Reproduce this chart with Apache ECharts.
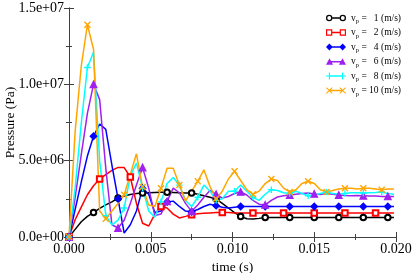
<!DOCTYPE html>
<html><head><meta charset="utf-8">
<script src="https://cdn.jsdelivr.net/npm/echarts@6/dist/echarts.min.js"></script>
<style>html,body{margin:0;padding:0;background:#fff}#c{width:415px;height:273px}</style>
</head><body><div id="c"></div>
<script>
// time (s)
const times = [0, 0.000375, 0.00075, 0.001125, 0.0015, 0.001875, 0.00225, 0.002625, 0.003, 0.003375,
  0.00375, 0.004125, 0.0045, 0.004875, 0.00525, 0.005625, 0.006, 0.006375, 0.00675, 0.007125,
  0.0075, 0.007875, 0.00825, 0.008625, 0.009, 0.009375, 0.00975, 0.010125, 0.0105, 0.010875,
  0.01125, 0.011625, 0.012, 0.012375, 0.01275, 0.013125, 0.0135, 0.013875, 0.01425, 0.014625,
  0.015, 0.015375, 0.01575, 0.016125, 0.0165, 0.016875, 0.01725, 0.017625, 0.018, 0.018375,
  0.01875, 0.019125, 0.0195, 0.019875];
// pressure in units of 1e6 Pa
const p_v1 = [0, 0.5, 1.0, 1.35, 1.6, 1.88, 2.1, 2.3, 2.55, 2.68,
  2.78, 2.85, 2.88, 2.9, 2.92, 2.93, 2.93, 2.92, 2.9, 2.89,
  2.88, 2.8, 2.7, 2.6, 2.49, 2.2, 1.9, 1.6, 1.35, 1.2,
  1.18, 1.22, 1.27, 1.27, 1.27, 1.27, 1.27, 1.27, 1.27, 1.27,
  1.27, 1.27, 1.27, 1.27, 1.27, 1.27, 1.27, 1.27, 1.27, 1.27,
  1.27, 1.27, 1.27, 1.27];
const p_v2 = [0, 1.13, 1.96, 2.77, 3.36, 3.8, 4.08, 4.36, 4.56, 4.55,
  3.93, 2.2, 0.9, 0.72, 1.5, 2.0, 1.9, 1.5, 1.25, 1.35,
  1.46, 1.52, 1.56, 1.58, 1.6, 1.61, 1.6, 1.58, 1.57, 1.57,
  1.57, 1.57, 1.57, 1.57, 1.57, 1.57, 1.57, 1.57, 1.57, 1.57,
  1.57, 1.57, 1.57, 1.57, 1.57, 1.57, 1.57, 1.57, 1.57, 1.57,
  1.57, 1.57, 1.57, 1.57];
const p_v4 = [0, 1.8, 3.6, 5.3, 6.6, 7.4, 7.05, 4.7, 2.5, 0.26,
  0.8, 1.7, 3.2, 2.8, 1.6, 1.7, 2.3, 2.35, 2.0, 1.7,
  1.65, 1.8, 2.0, 2.15, 2.05, 1.95, 1.9, 1.95, 2.0, 2.0,
  2.0, 2.0, 2.0, 2.0, 2.0, 2.0, 2.0, 2.0, 2.0, 2.0,
  2.0, 2.0, 2.0, 2.0, 2.0, 2.0, 2.0, 2.0, 2.0, 2.0,
  2.0, 2.0, 2.0, 2.0];
const p_v6 = [0, 2.6, 5.4, 8.1, 10.0, 9.0, 4.5, 0.8, 0.59, 1.1,
  2.2, 3.4, 4.55, 3.2, 1.4, 1.5, 2.33, 3.2, 2.9, 2.2,
  1.68, 2.1, 2.6, 3.05, 2.8, 2.55, 2.65, 2.85, 2.95, 2.75,
  2.4, 2.15, 2.1, 2.4, 2.62, 2.7, 2.75, 2.8, 2.85, 2.88,
  2.82, 2.78, 2.85, 2.8, 2.75, 2.72, 2.7, 2.72, 2.7, 2.68,
  2.68, 2.66, 2.66, 2.66];
const p_v8 = [0, 3.2, 7.45, 11.1, 12.1, 5.0, 1.4, 0.8, 1.1, 1.9,
  4.0, 4.85, 3.2, 1.7, 1.3, 2.3, 3.5, 3.9, 3.4, 2.4,
  2.0, 2.6, 3.4, 3.0, 2.4, 2.5, 3.0, 3.0, 3.4, 3.0,
  2.6, 2.4, 2.8, 3.1, 3.05, 2.9, 2.85, 3.0, 2.85, 2.7,
  2.75, 2.85, 2.95, 2.85, 2.8, 2.85, 2.9, 2.9, 2.88, 2.9,
  2.92, 2.95, 2.85, 2.8];
const p_v10 = [0, 6.9, 11.2, 13.9, 12.3, 1.7, 1.2, 1.7, 2.2, 2.77,
  4.1, 5.45, 3.27, 2.1, 2.0, 3.2, 4.5, 4.5, 3.4, 2.35,
  3.0, 3.65, 4.4, 3.3, 2.5, 3.0, 3.8, 4.3, 3.7, 3.1,
  2.8, 3.0, 3.5, 3.8, 3.7, 3.2, 2.95, 3.1, 3.5, 3.65,
  3.5, 3.1, 2.95, 3.05, 3.15, 3.2, 3.2, 3.15, 3.2, 3.2,
  3.15, 3.1, 3.15, 3.15];
const velocities = [1, 2, 4, 6, 8, 10];
const xTickLabels = ['0.000', '0.005', '0.010', '0.015', '0.020'];
const yTickLabels = ['0.0e+00', '5.0e+06', '1.0e+07', '1.5e+07'];

const UNIT = 1e6;
const FONT = "'Liberation Serif', 'Times New Roman', serif";

// legend icons: marker at both ends with a line between
function ring(cx, cy, r1, r2) {
  return 'M' + (cx - r1) + ',' + cy + ' a' + r1 + ',' + r1 + ' 0 1,0 ' + (2 * r1) + ',0 a' + r1 + ',' + r1 + ' 0 1,0 ' + (-2 * r1) + ',0 Z ' +
    'M' + (cx - r2) + ',' + cy + ' a' + r2 + ',' + r2 + ' 0 1,1 ' + (2 * r2) + ',0 a' + r2 + ',' + r2 + ' 0 1,1 ' + (-2 * r2) + ',0 Z ';
}
function hsq(cx, cy, a, b) {
  return 'M' + (cx - a) + ',' + (cy - a) + ' h' + (2 * a) + ' v' + (2 * a) + ' h' + (-2 * a) + ' Z ' +
    'M' + (cx - b) + ',' + (cy - b) + ' v' + (2 * b) + ' h' + (2 * b) + ' v' + (-2 * b) + ' Z ';
}
function dia(cx, cy, r) { return 'M' + cx + ',' + (cy - r) + ' L' + (cx + r) + ',' + cy + ' L' + cx + ',' + (cy + r) + ' L' + (cx - r) + ',' + cy + ' Z '; }
function tri(cx, cy, r) { return 'M' + cx + ',' + (cy - r) + ' L' + (cx + r) + ',' + (cy + r * 0.85) + ' L' + (cx - r) + ',' + (cy + r * 0.85) + ' Z '; }
function plus(cx, cy, r, w) {
  return 'M' + (cx - w) + ',' + (cy - r) + ' h' + (2 * w) + ' v' + (r - w) + ' h' + (r - w) + ' v' + (2 * w) + ' h' + (w - r) + ' v' + (r - w) + ' h' + (-2 * w) + ' v' + (w - r) + ' h' + (w - r) + ' v' + (-2 * w) + ' h' + (r - w) + ' Z ';
}
function cross(cx, cy, r, w) {
  return 'M' + (cx - r) + ',' + (cy - r + w) + ' L' + (cx - r + w) + ',' + (cy - r) + ' L' + cx + ',' + (cy - w) + ' L' + (cx + r - w) + ',' + (cy - r) +
    ' L' + (cx + r) + ',' + (cy - r + w) + ' L' + (cx + w) + ',' + cy + ' L' + (cx + r) + ',' + (cy + r - w) + ' L' + (cx + r - w) + ',' + (cy + r) +
    ' L' + cx + ',' + (cy + w) + ' L' + (cx - r + w) + ',' + (cy + r) + ' L' + (cx - r) + ',' + (cy + r - w) + ' L' + (cx - w) + ',' + cy + ' Z ';
}
function bar(x0, x1, cy, h) { return 'M' + x0 + ',' + (cy - h) + ' h' + (x1 - x0) + ' v' + (2 * h) + ' h' + (x0 - x1) + ' Z '; }
const L = 4, R = 18, C = 4;
const legendIcons = [
  'path://' + ring(L, C, 3.3, 2.0) + ring(R, C, 3.3, 2.0) + bar(L + 3.2, R - 3.2, C, 0.7),
  'path://' + hsq(L, C, 3.2, 2.0) + hsq(R, C, 3.2, 2.0) + bar(L + 3.1, R - 3.1, C, 0.7),
  'path://' + dia(L, C, 3.6) + dia(R, C, 3.6) + bar(L, R, C, 0.7),
  'path://' + tri(L, C, 3.8) + tri(R, C, 3.8) + bar(L, R, C, 0.7),
  'path://' + plus(L, C, 3.6, 0.6) + plus(R, C, 3.6, 0.6) + bar(L, R, C, 0.7),
  'path://' + cross(L, C, 3.4, 0.7) + cross(R, C, 3.4, 0.7) + bar(L, R, C, 0.7)
];

const styles = [
  { color: '#000000', symbol: 'emptyCircle', size: 5.5, every: 4 },
  { color: '#ff0000', symbol: 'emptyRect', size: 5.5, every: 5 },
  { color: '#0000ff', symbol: 'diamond', size: 6.5, every: 4 },
  { color: '#a020f0', symbol: 'triangle', size: 6.5, every: 4 },
  { color: '#00ffff', symbol: 'path://M5,0L5,10M0,5L10,5', size: 6.5, every: 3, stroke: true },
  { color: '#ffa500', symbol: 'path://M0,0L10,10M10,0L0,10', size: 6, every: 3, stroke: true }
];
const seriesValues = [p_v1, p_v2, p_v4, p_v6, p_v8, p_v10];

const series = seriesValues.map((vals, k) => {
  const st = styles[k];
  return {
    name: 'v' + velocities[k],
    type: 'line',
    symbol: st.symbol,
    symbolSize: st.size,
    showAllSymbol: true,
    showSymbol: true,
    animation: false,
    lineStyle: { color: st.color, width: 1.5 },
    itemStyle: { color: st.color, borderColor: st.color, borderWidth: st.stroke ? 1.4 : 1.3 },
    emphasis: { disabled: true },
    data: vals.map((v, i) => (i % st.every === 0) ? [times[i], v * UNIT] : { value: [times[i], v * UNIT], symbol: 'none' })
  };
});

const chart = echarts.init(document.getElementById('c'), null, { renderer: 'canvas' });
const axisCommon = {
  axisLine: { show: true, lineStyle: { color: '#404040', width: 1 } },
  axisTick: { show: true, inside: true, length: 5, lineStyle: { color: '#404040' } },
  minorTick: { show: true, splitNumber: 2, length: 3, lineStyle: { color: '#404040' } },
  splitLine: { show: false }
};
chart.setOption({
  animation: false,
  backgroundColor: '#ffffff',
  textStyle: { fontFamily: FONT },
  grid: { left: 69, right: 19, top: 8, bottom: 36, containLabel: false, outerBoundsMode: 'none' },
  legend: {
    orient: 'vertical',
    left: 321, top: 8,
    itemWidth: 20, itemHeight: 8, itemGap: 2.5,
    data: series.map((s, k) => ({ name: s.name, icon: legendIcons[k] })),
    itemStyle: { borderWidth: 0 },
    formatter: function (name) {
      const v = String(velocities[series.findIndex(s => s.name === name)]);
      return '{v|v}{s|p}{t| = ' + (v.length < 2 ? '  ' : '') + v + ' (m/s)}';
    },
    textStyle: {
      fontFamily: FONT, color: '#000',
      rich: {
        v: { fontFamily: FONT, fontSize: 9.5, color: '#000' },
        s: { fontFamily: FONT, fontSize: 6.5, color: '#000', padding: [7, 0, 0, 0] },
        t: { fontFamily: FONT, fontSize: 9.5, color: '#000' }
      }
    }
  },
  xAxis: [
    Object.assign({
      type: 'value', min: 0, max: 0.02, interval: 0.005, position: 'bottom',
      name: 'time (s)', nameLocation: 'middle', nameGap: 21,
      nameTextStyle: { fontFamily: FONT, fontSize: 13.5, color: '#000' },
      axisLabel: {
        margin: 5, fontFamily: FONT, fontSize: 14, color: '#000',
        formatter: v => xTickLabels[Math.round(v / 0.005)]
      }
    }, axisCommon),
    Object.assign({
      type: 'value', min: 0, max: 0.02, interval: 0.005, position: 'top',
      axisLabel: { show: false }
    }, axisCommon)
  ],
  yAxis: [
    Object.assign({
      type: 'value', min: 0, max: 1.5e7, interval: 5e6, position: 'left',
      name: 'Pressure (Pa)', nameLocation: 'middle', nameGap: 52, nameMoveOverlap: false,
      nameTextStyle: { fontFamily: FONT, fontSize: 13.5, color: '#000' },
      axisLabel: {
        margin: 5, fontFamily: FONT, fontSize: 14, color: '#000',
        formatter: v => yTickLabels[Math.round(v / 5e6)]
      }
    }, axisCommon),
    Object.assign({
      type: 'value', min: 0, max: 1.5e7, interval: 5e6, position: 'right',
      axisLabel: { show: false }
    }, axisCommon)
  ],
  series: series
});
</script>
</body></html>
